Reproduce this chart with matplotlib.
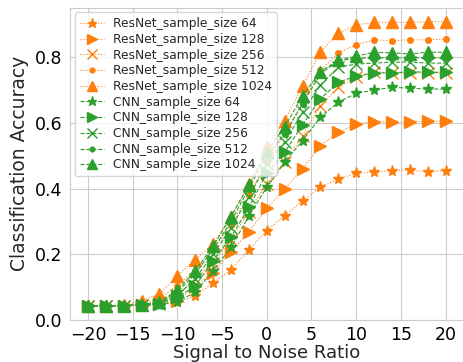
import matplotlib
matplotlib.use("Agg")
import matplotlib.pyplot as plt
import seaborn as sns
import numpy as np

# ---------- data ----------
snr = list(range(-20, 21, 2))
sample_sizes = [64, 128, 256, 512, 1024]

resnet_64 = [0.043, 0.043, 0.044, 0.046, 0.048, 0.054, 0.074, 0.112, 0.153, 0.214, 0.272,
             0.318, 0.363, 0.404, 0.429, 0.447, 0.450, 0.455, 0.457, 0.451, 0.455]
resnet_128 = [0.043, 0.043, 0.044, 0.046, 0.050, 0.058, 0.104, 0.143, 0.208, 0.268, 0.341,
              0.399, 0.460, 0.531, 0.571, 0.597, 0.604, 0.603, 0.603, 0.605, 0.605]
resnet_256 = [0.043, 0.043, 0.044, 0.047, 0.055, 0.075, 0.125, 0.175, 0.245, 0.330, 0.414,
              0.480, 0.561, 0.652, 0.708, 0.739, 0.756, 0.752, 0.752, 0.752, 0.752]
resnet_512 = [0.043, 0.043, 0.044, 0.050, 0.065, 0.105, 0.150, 0.215, 0.290, 0.380, 0.480,
              0.570, 0.660, 0.760, 0.813, 0.838, 0.853, 0.850, 0.853, 0.853, 0.855]
resnet_1024 = [0.043, 0.043, 0.045, 0.059, 0.079, 0.135, 0.184, 0.231, 0.313, 0.414, 0.526,
               0.607, 0.711, 0.815, 0.874, 0.898, 0.906, 0.906, 0.906, 0.908, 0.908]

cnn_64 = [0.043, 0.043, 0.044, 0.045, 0.046, 0.056, 0.084, 0.150, 0.221, 0.316, 0.404,
          0.480, 0.546, 0.617, 0.663, 0.690, 0.700, 0.708, 0.706, 0.703, 0.703]
cnn_128 = [0.043, 0.043, 0.044, 0.045, 0.048, 0.069, 0.103, 0.181, 0.252, 0.343, 0.447,
           0.510, 0.594, 0.673, 0.724, 0.742, 0.752, 0.752, 0.756, 0.754, 0.754]
cnn_256 = [0.043, 0.043, 0.044, 0.046, 0.050, 0.075, 0.125, 0.200, 0.280, 0.375, 0.475,
           0.541, 0.632, 0.715, 0.769, 0.779, 0.782, 0.785, 0.785, 0.782, 0.782]
cnn_512 = [0.043, 0.043, 0.044, 0.046, 0.052, 0.085, 0.140, 0.215, 0.300, 0.400, 0.500,
           0.566, 0.658, 0.749, 0.789, 0.797, 0.798, 0.798, 0.798, 0.798, 0.798]
cnn_1024 = [0.043, 0.043, 0.044, 0.047, 0.055, 0.090, 0.150, 0.225, 0.315, 0.410, 0.512,
            0.588, 0.683, 0.756, 0.791, 0.803, 0.815, 0.813, 0.810, 0.815, 0.815]

resnet = [resnet_64, resnet_128, resnet_256, resnet_512, resnet_1024]
cnn = [cnn_64, cnn_128, cnn_256, cnn_512, cnn_1024]
markers = ["*", ">", "x", ".", "^"]
msizes = [8, 9, 8, 8, 9]

# ---------- plot ----------
sns.set_style("whitegrid")
plt.rcParams["font.family"] = ["DejaVu Sans"]

fig = plt.figure(figsize=(4.63, 3.62), dpi=100)
ax = fig.add_axes([70 / 463, 42 / 362, 393.5 / 463, 312.5 / 362])

for vals, m, ms, n in zip(resnet, markers, msizes, sample_sizes):
    ax.plot(snr, vals, ls=":", lw=0.8, color="tab:orange", marker=m, ms=ms,
            label=f"ResNet_sample_size {n}")
for vals, m, ms, n in zip(cnn, markers, msizes, sample_sizes):
    ax.plot(snr, vals, ls="--", lw=0.8, color="tab:green", marker=m, ms=ms,
            label=f"CNN_sample_size {n}")

ax.set_xlim(-22, 22)
ax.set_ylim(bottom=0)
ax.set_xticks([-20, -15, -10, -5, 0, 5, 10, 15, 20])
ax.set_yticks([0.0, 0.2, 0.4, 0.6, 0.8])
ax.tick_params(labelsize=12.5, pad=2, labelcolor="black")
ax.tick_params(axis="x", pad=1)
ax.set_xlabel("Signal to Noise Ratio", fontsize=13, labelpad=-0.5)
ax.set_ylabel("Classification Accuracy", fontsize=13.5, labelpad=4)
ax.legend(loc="upper left", fontsize=8.8, borderaxespad=0.4, labelspacing=0.22,
          markerscale=0.85, handletextpad=0.7)

fig.savefig("out.png", dpi=100)
